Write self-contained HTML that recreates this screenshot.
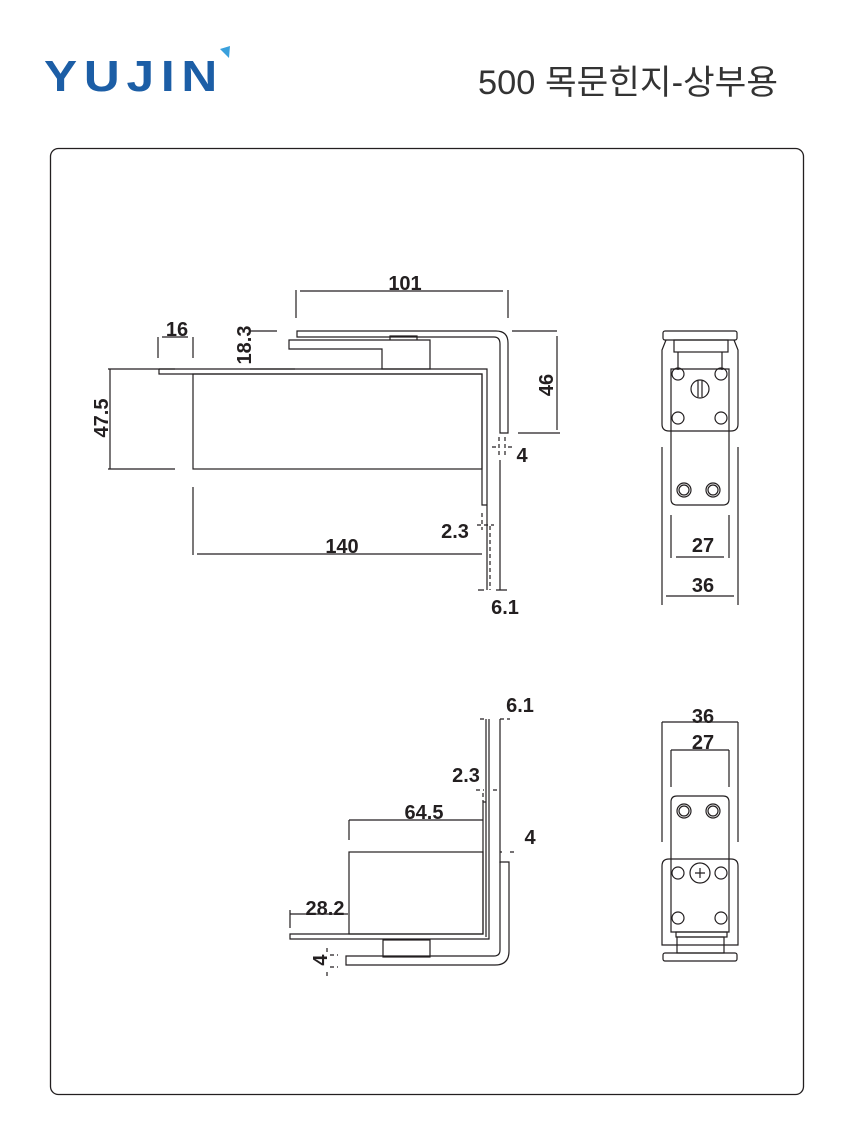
<!DOCTYPE html>
<html><head><meta charset="utf-8"><style>
html,body{margin:0;padding:0;background:#fff;width:854px;height:1145px;overflow:hidden}
svg{display:block}
text{font-family:"Liberation Sans",Arial,sans-serif;fill:#231f20}
</style></head><body>
<svg width="854" height="1145" viewBox="0 0 854 1145" xmlns="http://www.w3.org/2000/svg">
<!-- logo -->
<text x="44" y="91" font-size="44" font-weight="bold" style="fill:#1c5ea6" letter-spacing="6" textLength="180" lengthAdjust="spacingAndGlyphs">YUJIN</text>
<polygon points="220,49 230,46 229,58" fill="#3aa0dc"/>
<text x="778" y="94" font-size="34" text-anchor="end" textLength="300" lengthAdjust="spacingAndGlyphs" style="font-family:'Liberation Sans','Noto Sans CJK KR',sans-serif;fill:#333">500 목문힌지-상부용</text>
<rect x="50.5" y="148.5" width="753" height="946" rx="8" fill="none" stroke="#231f20" stroke-width="1.3"/>

<g fill="none" stroke="#231f20" stroke-width="1.2">
<!-- TOP SIDE VIEW -->
<path d="M297,331 H496 Q508,331 508,343 V433 H500 V344 Q500,337 494,337 H297 Z"/>
<path d="M289,340 H430 V369 H382 V349 H289 Z"/>
<path d="M390,340 V336 H417 V340"/>
<path d="M159,369 H487 V590 M159,369 V374 H482 V469"/>
<rect x="193" y="374" width="289" height="95"/>
<path d="M482,469 V505 H487"/>
<!-- dims -->
<path d="M300,291 H503 M296,290 V318 M508,290 V318"/>
<path d="M158,337 V358 M193,337 V358 M162,337 H188"/>
<path d="M250,331 H277 M250,369 H295"/>
<path d="M110,369 V469 M108,369 H175 M108,469 H175 M193,487 V555"/>
<path d="M557,336 V430 M512,331 H557 M518,433 H560"/>
<path d="M197,554 H482"/>
<path d="M499,437 V456 M505,437 V456 M492,447 H496 M508,447 H512" stroke-dasharray="4,3"/>
<path d="M482,513 V530 M490,526 V590 M477,525 H494" stroke-dasharray="4,3"/>
<path d="M478,590 H484 M496,590 H507"/>
<path d="M500,460 V590"/>

<!-- TOP RIGHT VIEW -->
<rect x="663" y="331" width="74" height="9" rx="2"/>
<path d="M666,340 L662,350 V424 Q662,431 669,431 H731 Q738,431 738,424 V350 L734,340"/>
<rect x="674" y="340" width="54" height="12"/>
<path d="M678,352 V370 M722,352 V370"/>
<path d="M671,369 H729 V499 Q729,505 723,505 H677 Q671,505 671,499 Z"/>
<circle cx="678" cy="374" r="6"/><circle cx="721" cy="374" r="6"/>
<circle cx="678" cy="418" r="6"/><circle cx="721" cy="418" r="6"/>
<circle cx="700" cy="389" r="9"/><path d="M698,381 V397 M702,381 V397"/>
<circle cx="684" cy="490" r="7"/><circle cx="684" cy="490" r="5"/>
<circle cx="713" cy="490" r="7"/><circle cx="713" cy="490" r="5"/>
<path d="M671,515 V558 M729,515 V558 M676,557 H724"/>
<path d="M662,447 V605 M738,447 V605 M666,596 H734"/>

<!-- BOTTOM SIDE VIEW -->
<path d="M486,719 V937 M489,719 V939 H290 V934 H483 V802 H486"/>
<rect x="349" y="852" width="134" height="82"/>
<rect x="383" y="940" width="47" height="17"/>
<path d="M346,956 H494 Q500,956 500,950 V862 H509 V951 Q509,965 495,965 H346 Z"/>
<path d="M349,820 H483 M349,820 V840"/>
<path d="M290,914 H348 M290,910 V928"/>
<path d="M500,719 V863"/>
<path d="M480,719 H484 M500,719 H510 M476,790 H484 M493,790 H498 M483,793 V802 M500,852 H502 M510,852 H516 M330,955 H338 M330,967 H338 M327,948 V952 M327,972 V976" stroke-dasharray="4,3"/>

<!-- BOTTOM RIGHT VIEW -->
<path d="M662,722 H738 M662,722 V842 M738,722 V842"/>
<path d="M671,750 H729 M671,750 V787 M729,750 V787"/>
<path d="M662,866 Q662,859 669,859 H731 Q738,859 738,866 V945 H662 Z"/>
<path d="M671,932 V802 Q671,796 677,796 H723 Q729,796 729,802 V932 Z"/>
<circle cx="684" cy="811" r="7"/><circle cx="684" cy="811" r="5"/>
<circle cx="713" cy="811" r="7"/><circle cx="713" cy="811" r="5"/>
<circle cx="678" cy="873" r="6"/><circle cx="721" cy="873" r="6"/>
<circle cx="678" cy="918" r="6"/><circle cx="721" cy="918" r="6"/>
<circle cx="700" cy="873" r="10"/><path d="M695,873 H705 M700,868 V878"/>
<rect x="676" y="932" width="51" height="5"/>
<rect x="677" y="937" width="47" height="16"/>
<rect x="663" y="953" width="74" height="8" rx="2"/>
</g>

<g font-size="20" font-weight="bold" text-anchor="middle">
<text x="405" y="290">101</text>
<text x="177" y="336">16</text>
<text transform="translate(251,345) rotate(-90)" y="0">18.3</text>
<text transform="translate(108,418) rotate(-90)">47.5</text>
<text transform="translate(553,385) rotate(-90)">46</text>
<text x="522" y="462">4</text>
<text x="455" y="538">2.3</text>
<text x="342" y="553">140</text>
<text x="505" y="614">6.1</text>
<text x="703" y="552">27</text>
<text x="703" y="592">36</text>
<text x="520" y="712">6.1</text>
<text x="466" y="782">2.3</text>
<text x="424" y="819">64.5</text>
<text x="530" y="844">4</text>
<text x="325" y="915">28.2</text>
<text transform="translate(327,960) rotate(-90)">4</text>
<text x="703" y="723">36</text>
<text x="703" y="749">27</text>
</g>
</svg>
</body></html>
